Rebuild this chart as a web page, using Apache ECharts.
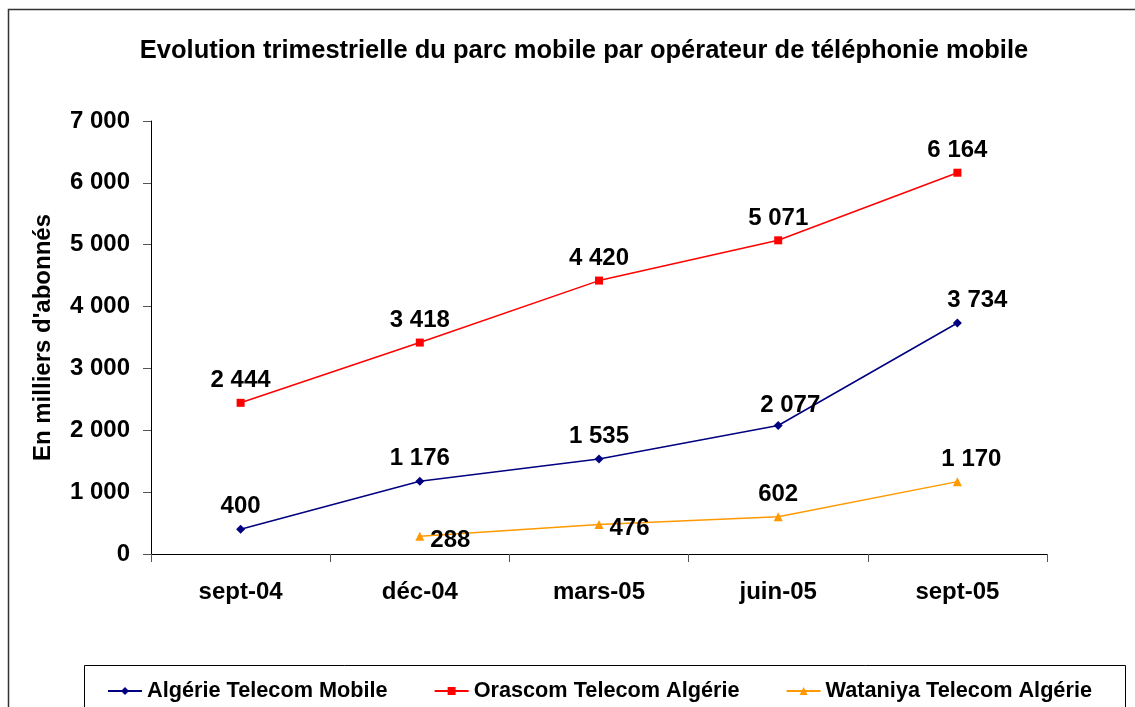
<!DOCTYPE html>
<html>
<head>
<meta charset="utf-8">
<script src="https://cdn.jsdelivr.net/npm/echarts@6/dist/echarts.min.js"></script>
<style>
  html, body { margin: 0; padding: 0; background: #fff; }
  #chart { width: 1135px; height: 707px; }
</style>
</head>
<body>
<div id="chart"></div>
<script>
var categories = ['sept-04', 'déc-04', 'mars-05', 'juin-05', 'sept-05'];
var algerieTelecom = [400, 1176, 1535, 2077, 3734];
var orascom = [2444, 3418, 4420, 5071, 6164];
var wataniya = [null, 288, 476, 602, 1170];
var yTicks = [0, 1000, 2000, 3000, 4000, 5000, 6000, 7000];

var fmt = function (v) {
  return String(v).replace(/\B(?=(\d{3})+(?!\d))/g, ' ');
};
var font = 'Liberation Sans, Arial, sans-serif';

var labelStyle = {
  show: true,
  position: 'top',
  distance: 6,
  fontFamily: font,
  fontWeight: 'bold',
  fontSize: 24,
  color: '#000',
  formatter: function (p) { return fmt(p.value); }
};

var myChart = echarts.init(document.getElementById('chart'));
myChart.setOption({
  animation: false,
  backgroundColor: '#fff',
  title: {
    text: 'Evolution trimestrielle du parc mobile par opérateur de téléphonie mobile',
    left: 579,
    textAlign: 'center',
    top: 33,
    textStyle: { fontFamily: font, fontWeight: 'bold', fontSize: 25.5, color: '#000' }
  },
  graphic: [
    {
      type: 'rect',
      shape: { x: 8.5, y: 9.5, width: 1140, height: 710 },
      style: { fill: 'none', stroke: '#333', lineWidth: 1.5 },
      z: -1
    },
    {
      type: 'rect',
      shape: { x: 84.5, y: 665.5, width: 1041, height: 60 },
      style: { fill: 'none', stroke: '#000', lineWidth: 1 },
      z: -1
    }
  ],
  legend: {
    top: 675,
    left: 102,
    itemGap: 46,
    itemWidth: 34,
    itemHeight: 10,
    textStyle: { fontFamily: font, fontWeight: 'bold', fontSize: 21.7, color: '#000' },
    data: ['Algérie Telecom Mobile', 'Orascom Telecom Algérie', 'Wataniya Telecom Algérie']
  },
  grid: { left: 151, right: 88, top: 121, bottom: 153 },
  xAxis: {
    type: 'category',
    data: categories,
    boundaryGap: true,
    axisLine: { lineStyle: { color: '#000', width: 1 } },
    axisTick: { show: true, length: 8, interval: 0, lineStyle: { color: '#555' } },
    axisLabel: {
      margin: 26,
      fontFamily: font, fontWeight: 'bold', fontSize: 24, color: '#000'
    }
  },
  yAxis: {
    type: 'value',
    min: yTicks[0],
    max: yTicks[yTicks.length - 1],
    interval: 1000,
    name: "En milliers d'abonnés",
    nameLocation: 'middle',
    nameGap: 96,
    nameTextStyle: { fontFamily: font, fontWeight: 'bold', fontSize: 24, color: '#000' },
    axisLine: { show: true, lineStyle: { color: '#000', width: 1 } },
    axisTick: { show: true, length: 8, lineStyle: { color: '#555' } },
    splitLine: { show: false },
    axisLabel: {
      margin: 21,
      fontFamily: font, fontWeight: 'bold', fontSize: 24, color: '#000',
      formatter: fmt
    }
  },
  series: [
    {
      name: 'Algérie Telecom Mobile',
      type: 'line',
      data: algerieTelecom.map(function (v, i) {
        var d = { value: v };
        if (i === 3) d.label = { offset: [12, 2] };
        if (i === 4) d.label = { offset: [20, 0] };
        return d;
      }),
      color: '#000080',
      symbol: 'diamond',
      symbolSize: 9,
      lineStyle: { width: 1.5, color: '#000080' },
      itemStyle: { color: '#000080' },
      label: labelStyle
    },
    {
      name: 'Orascom Telecom Algérie',
      type: 'line',
      data: orascom,
      color: '#ff0000',
      symbol: 'rect',
      symbolSize: 8,
      lineStyle: { width: 1.5, color: '#ff0000' },
      itemStyle: { color: '#ff0000' },
      label: labelStyle
    },
    {
      name: 'Wataniya Telecom Algérie',
      type: 'line',
      data: wataniya.map(function (v, i) {
        var d = { value: v };
        if (i === 1 || i === 2) d.label = { position: 'right', distance: 6, offset: [0, 4] };
        if (i === 4) d.label = { offset: [14, 0] };
        return d;
      }),
      connectNulls: false,
      color: '#ff9900',
      symbol: 'triangle',
      symbolSize: 9,
      lineStyle: { width: 1.5, color: '#ff9900' },
      itemStyle: { color: '#ff9900' },
      label: labelStyle
    }
  ]
});
</script>
</body>
</html>
